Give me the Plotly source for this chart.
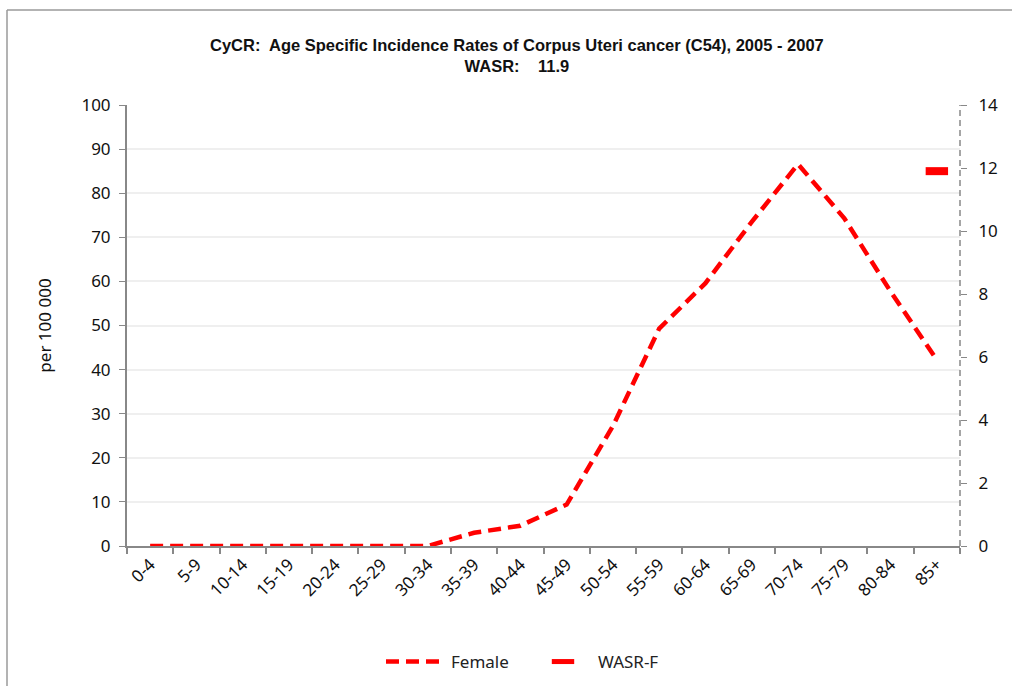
import plotly.graph_objects as go

age_groups = ["0-4", "5-9", "10-14", "15-19", "20-24", "25-29", "30-34", "35-39",
              "40-44", "45-49", "50-54", "55-59", "60-64", "65-69", "70-74",
              "75-79", "80-84", "85+"]
female_rates = [0, 0, 0, 0, 0, 0, 0, 3.0, 4.6, 9.4, 27.2, 49.3, 59.6, 73.5,
                86.6, 74.3, 57.7, 42.2]
wasr_category = ["85+"]
wasr_value = [11.9]

title_line1 = "CyCR:  Age Specific Incidence Rates of Corpus Uteri cancer (C54), 2005 - 2007"
title_line2 = "WASR:    11.9"

font_main = "Liberation Sans Narrow, Liberation Sans, Arial, sans-serif"
font_ticks = "Noto Sans, Liberation Sans, sans-serif"

fig = go.Figure()
fig.add_trace(go.Scatter(
    x=age_groups, y=female_rates, mode="lines", name="Female",
    line=dict(color="#ff0000", width=4.5, dash="13px,7px"),
    yaxis="y",
))
fig.add_trace(go.Scatter(
    x=wasr_category, y=wasr_value, mode="markers", name="WASR-F",
    marker=dict(symbol="line-ew", size=16, color="#ff0000",
                line=dict(color="#ff0000", width=8)),
    yaxis="y2",
))

def px_x(px):
    return (px - 127) / 833

def px_y(py):
    return (546 - py) / 441

fig.update_layout(
    width=1012, height=686,
    margin=dict(l=127, r=52, t=105, b=140),
    paper_bgcolor="white", plot_bgcolor="white",
    showlegend=True,
    legend=dict(orientation="h", xref="paper", x=px_x(528), xanchor="center",
                yref="container", y=1 - 662 / 686, yanchor="middle",
                font=dict(family=font_ticks, size=17, color="#222"),
                itemwidth=60, tracegroupgap=0, entrywidth=72, entrywidthmode="pixels"),
    annotations=[
        dict(text="<b>" + title_line1 + "</b><br><b>" + title_line2 + "</b>",
             xref="paper", yref="paper", x=px_x(517), y=px_y(56),
             xanchor="center", yanchor="middle", showarrow=False,
             font=dict(family=font_main, size=16.5, color="#111")),
    ],
    xaxis=dict(
        type="category", range=[-0.5, 17.5],
        showline=True, linecolor="#888888", linewidth=2,
        ticks="outside", ticklen=6, tickcolor="#888888", tickwidth=1.5,
        tickson="boundaries", showgrid=False,
        tickangle=-45, tickfont=dict(family=font_ticks, size=17, color="#111"),
    ),
    yaxis=dict(
        range=[0, 100], dtick=10,
        showline=True, linecolor="#888888", linewidth=2,
        ticks="outside", ticklen=6, tickcolor="#888888",
        showgrid=True, gridcolor="#efefef", gridwidth=1.5, zeroline=False,
        ticklabelstandoff=5,
        tickfont=dict(family=font_ticks, size=17, color="#111"),
        title=dict(text="per 100 000", font=dict(family=font_ticks, size=17, color="#111"),
                   standoff=25),
    ),
    yaxis2=dict(
        range=[0, 14], dtick=2, overlaying="y", side="right",
        showline=False, ticks="outside", ticklen=6, tickcolor="#888888",
        showgrid=False, zeroline=False, ticklabelstandoff=8,
        tickfont=dict(family=font_ticks, size=17, color="#111"),
    ),
    shapes=[
        dict(type="line", xref="paper", yref="paper", x0=1, x1=1, y0=0, y1=1,
             line=dict(color="#888888", width=1.5, dash="6px,4px")),
        dict(type="line", xref="paper", yref="paper",
             x0=px_x(7), x1=px_x(1030), y0=px_y(10), y1=px_y(10),
             line=dict(color="#9a9a9a", width=1.5), layer="below"),
        dict(type="line", xref="paper", yref="paper",
             x0=px_x(7), x1=px_x(7), y0=px_y(10), y1=px_y(700),
             line=dict(color="#9a9a9a", width=1.5), layer="below"),
    ],
)

fig.write_html("out.html", config={"displayModeBar": False},
               post_script="document.body.style.margin='0';document.body.style.overflow='hidden';")
